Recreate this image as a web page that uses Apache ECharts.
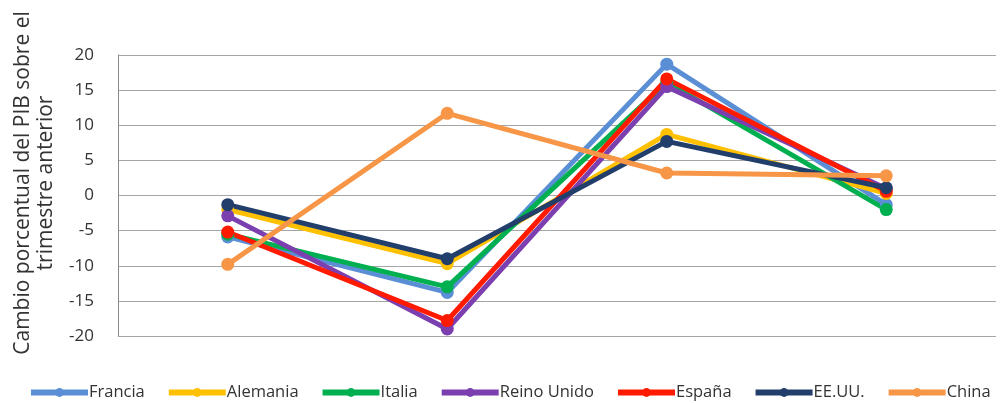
<!DOCTYPE html>
<html>
<head>
<meta charset="utf-8">
<script src="https://cdn.jsdelivr.net/npm/echarts@6/dist/echarts.min.js"></script>
<style>
  html, body { margin: 0; padding: 0; background: #ffffff; }
  #chart { width: 1007px; height: 403px; }
</style>
</head>
<body>
<div id="chart"></div>
<script>
// Quarterly GDP change (%) versus the previous quarter, 2020
const quarters = ['T1', 'T2', 'T3', 'T4'];
const yTicks = [-20, -15, -10, -5, 0, 5, 10, 15, 20];

const francia    = [-5.9, -13.8, 18.7, -1.3];
const alemania   = [-2.0, -9.7, 8.7, 0.3];
const italia     = [-5.5, -13.0, 16.1, -2.0];
const reinoUnido = [-2.9, -19.0, 15.5, 1.0];
const espana     = [-5.2, -17.8, 16.6, 0.6];
const eeuu       = [-1.3, -9.0, 7.7, 1.1];
const china      = [-9.8, 11.7, 3.2, 2.8];

const seriesDefs = [
  { name: 'Francia', data: francia, color: '#5a8fd6' },
  { name: 'Alemania', data: alemania, color: '#ffc000' },
  { name: 'Italia', data: italia, color: '#00b050' },
  { name: 'Reino Unido', data: reinoUnido, color: '#7b3fb0' },
  { name: 'España', data: espana, color: '#ff1a00' },
  { name: 'EE.UU.', data: eeuu, color: '#223e6b' },
  { name: 'China', data: china, color: '#f79646' }
];

const axisTitle = 'Cambio porcentual del PIB sobre el\ntrimestre anterior';
const font = 'Open Sans';
const chart = echarts.init(document.getElementById('chart'));
chart.setOption({
  animation: false,
  backgroundColor: '#ffffff',
  grid: { left: 118, right: 11, top: 55, bottom: 67 },
  graphic: [{
    type: 'text',
    x: 35,
    y: 183,
    rotation: Math.PI / 2,
    style: {
      text: axisTitle,
      fontFamily: font,
      fontSize: 21,
      lineHeight: 23,
      fill: '#333333',
      align: 'center',
      verticalAlign: 'middle'
    }
  }],
  legend: {
    bottom: 2,
    left: 28,
    right: 0,
    padding: 0,
    itemWidth: 57,
    itemHeight: 11,
    itemGap: 21,
    lineStyle: { width: 6 },
    textStyle: { fontFamily: font, fontSize: 16.5, color: '#333333', padding: [0, 0, 0, -4] },
    data: seriesDefs.map(s => s.name)
  },
  xAxis: {
    type: 'category',
    data: quarters,
    boundaryGap: true,
    axisLine: { show: false },
    axisTick: { show: false },
    axisLabel: { show: false }
  },
  yAxis: {
    type: 'value',
    min: yTicks[0],
    max: yTicks[yTicks.length - 1],
    interval: 5,
    axisLine: { show: true, lineStyle: { color: '#8c8c8c', width: 1 } },
    axisTick: { show: false },
    axisLabel: { fontFamily: font, fontSize: 17, color: '#333333', margin: 24 },
    splitLine: { lineStyle: { color: '#a6a6a6', width: 1 } }
  },
  series: seriesDefs.map(s => ({
    name: s.name,
    type: 'line',
    data: s.data,
    symbol: 'circle',
    symbolSize: 13,
    lineStyle: { width: 5, color: s.color },
    itemStyle: { color: s.color },
    emphasis: { disabled: true }
  }))
});
</script>
</body>
</html>
